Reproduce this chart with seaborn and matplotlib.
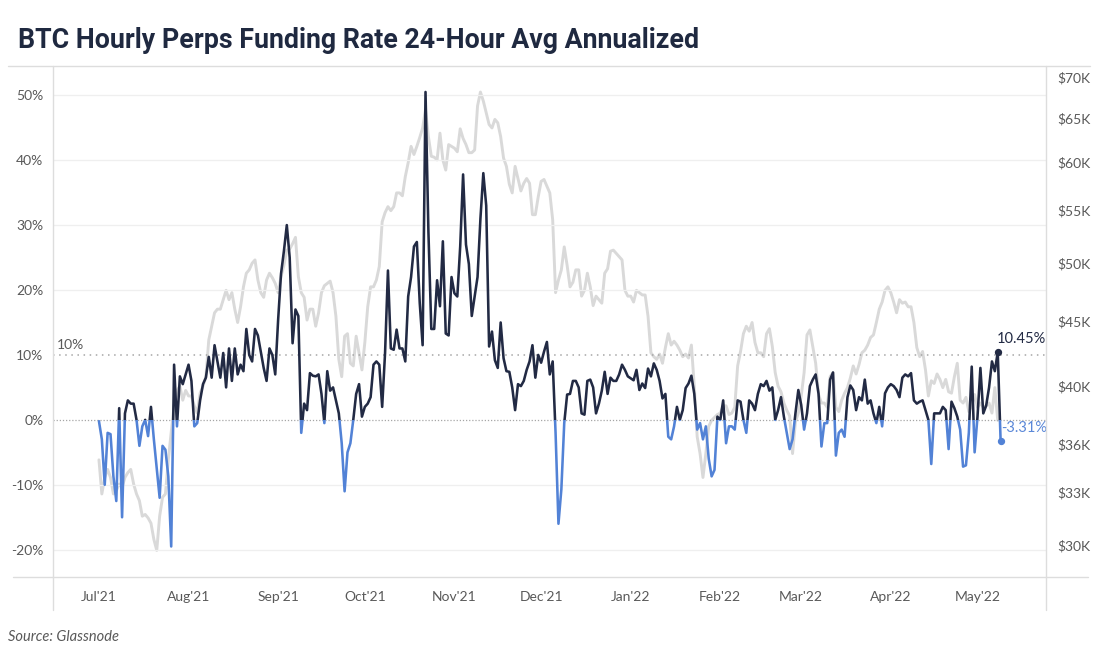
import matplotlib.dates as mdates
import matplotlib.lines as mlines
import matplotlib.transforms as mtransforms
import pandas as pd
import seaborn as sns
from matplotlib import pyplot as plt
from matplotlib.patches import Rectangle
from matplotlib.ticker import FixedLocator, NullFormatter, NullLocator

START = "2021-07-01"

# 24h average annualized funding rate, % (one value per day from START)
funding_rate = [
    -0.2, -3, -10, -2, -2.2, -8.7, -12.5, 1.8, -15, 1,
    3, 2.5, 2.5, 0, -4, -1, 0, -2.5, 2, -3,
    -7.5, -12, -4, -4.6, -8.7, -19.5, 8.5, -1, 6.7, 5.5,
    7, 8.5, 6, -1, -0.5, 3, 5.5, 6.5, 9.7, 6.5,
    11.5, 9, 6.5, 10.3, 5, 11, 6, 11, 7, 8.5,
    7.5, 14, 10, 9, 14, 13, 10.5, 8, 6, 11,
    10, 7, 15.4, 22.5, 26, 30, 25, 11.8, 17, 16,
    -2, 2.5, 1.5, 7.2, 6.8, 6.7, 7, 4, -0.5, 7.5,
    4.5, 5, 3, 1, -3.6, -11, -5, -3.6, 0, 4,
    5.5, 0.5, 2, 2.5, 3.5, 8.5, 9, 8.5, 2, 10.3,
    23, 11, 10.8, 13.9, 11, 11, 9, 19, 22, 26.7,
    27.4, 18, 11.5, 50.5, 29, 14, 14, 21.5, 17.5, 27.5,
    13.3, 13, 22, 19.5, 19, 26.7, 37.8, 27, 24, 16,
    19, 22, 31, 38, 33, 11.3, 13.6, 9.2, 8, 15,
    9.5, 7.5, 7.4, 5, 1.5, 5.5, 5.2, 6, 7.7, 9,
    11.5, 6.5, 10, 8.8, 10.5, 12, 7, 9, -2, -16,
    -10.7, -0.5, 3.9, 4, 6, 6, 5, 1, 0.8, 6,
    6.2, 5, 1, 2.5, 4.5, 7.4, 4, 6.5, 6, 6,
    7, 8.5, 7.7, 6.7, 6.4, 6.1, 7.7, 4.6, 5.6, 4.9,
    7.9, 6.7, 8.7, 7.7, 6, 3.3, 4, -2.6, -3, -1,
    2, 0, 1.5, 4.9, 5.6, 6.8, 4, -1.5, -0.5, -3,
    -1, -6, -8.7, -7.7, 0.5, 0, 3, -3.6, -1, -1,
    -1.5, 3, 2.8, 0, -2, 3, 2.5, 1.5, 4, 5.5,
    5.2, 6, 4.5, 5, 0, 1.5, 3.5, 0.5, -2, -4.5,
    -3, 1, 4.6, 2.3, -1.5, 1, 5.2, 6.2, 7, 4,
    -4.1, -0.5, -0.5, 6.2, 7.3, -5.5, -2, -1.5, -2.6, 3.5,
    5.3, 4.6, 1.5, 3.5, 3, 6.2, 2.5, 3, 1, -0.5,
    2, -1, 4.1, 5, 5.5, 5.2, 4.6, 3.5, 6.5, 7,
    6.7, 7.2, 3, 2.5, 2.8, 3, 1.5, 0, -6.8, 1,
    1, 1, 2, 1.5, -4.5, 2.8, 1.8, 0.5, -1.5, -7.2,
    -7, -2, 8.2, -5, 0.5, 8, 1, 2.2, 5, 9,
    7.5, 10.45, -3.31,
]

# BTC price, $K (one value per day from START)
btc_price_k = [
    35.0, 32.9, 33.9, 34.4, 33.9, 32.9, 33.1, 33.5, 33.3, 33.9,
    34.2, 34.4, 33.5, 32.9, 32.5, 31.6, 31.7, 31.5, 31.2, 30.3,
    29.7, 31.6, 32.7, 32.9, 35.0, 36.8, 38.6, 39.7, 40.0, 39.0,
    39.7, 39.3, 39.3, 38.6, 38.1, 39.5, 40.0, 40.7, 43.5, 44.6,
    45.7, 46.0, 46.0, 46.8, 47.6, 46.8, 47.4, 46.0, 44.9, 46.2,
    47.9, 49.1, 49.4, 50.0, 50.3, 48.5, 47.4, 47.0, 48.5, 49.1,
    48.7, 48.2, 47.4, 48.8, 49.8, 51.2, 51.3, 51.8, 52.4, 48.8,
    47.4, 47.0, 45.1, 46.0, 46.0, 44.6, 45.7, 47.4, 48.0, 48.2,
    48.4, 47.4, 45.4, 42.0, 40.7, 43.8, 44.0, 41.7, 41.5, 43.8,
    42.5, 41.2, 43.3, 46.2, 47.9, 47.9, 48.5, 49.7, 53.9, 54.8,
    55.4, 55.0, 55.4, 56.8, 56.8, 56.5, 58.5, 60.0, 61.8, 60.9,
    61.8, 62.8, 63.9, 66.1, 62.9, 60.7, 60.6, 60.3, 63.3, 60.3,
    59.2, 62.0, 61.8, 61.6, 61.2, 63.8, 62.7, 62.0, 61.1, 61.1,
    61.4, 66.5, 68.2, 67.1, 65.7, 64.3, 63.9, 64.9, 64.5, 62.9,
    60.5, 59.6, 57.7, 56.8, 59.6, 58.3, 57.0, 57.8, 58.3, 57.8,
    54.6, 54.6, 56.4, 58.0, 58.2, 57.5, 56.8, 54.1, 47.4, 48.5,
    49.4, 51.5, 49.8, 47.9, 48.3, 49.4, 49.4, 47.1, 47.6, 49.1,
    47.9, 46.3, 47.1, 46.8, 46.5, 49.1, 49.5, 51.1, 51.2, 50.9,
    50.6, 50.3, 47.6, 47.1, 47.1, 46.6, 47.6, 47.4, 47.2, 47.2,
    45.4, 42.5, 42.2, 42.0, 42.4, 41.7, 42.9, 44.0, 43.1, 43.4,
    43.1, 42.7, 42.2, 42.4, 42.1, 43.1, 40.0, 36.5, 35.4, 33.9,
    35.4, 37.2, 37.6, 37.8, 38.0, 38.1, 38.6, 38.6, 38.0, 38.1,
    38.5, 41.5, 42.6, 44.0, 44.6, 44.2, 44.9, 43.3, 42.5, 42.5,
    42.2, 44.0, 44.4, 43.0, 41.0, 40.0, 39.6, 38.8, 38.3, 37.9,
    35.4, 37.5, 38.1, 39.3, 41.0, 43.9, 44.3, 43.0, 41.7, 39.4,
    38.8, 38.8, 38.5, 40.7, 41.0, 38.5, 38.2, 39.0, 39.5, 39.9,
    40.6, 41.5, 40.9, 41.6, 42.5, 42.7, 43.1, 43.7, 43.9, 44.9,
    46.0, 46.6, 47.6, 47.9, 47.4, 46.6, 45.7, 46.8, 46.5, 46.6,
    46.2, 46.2, 44.9, 42.9, 42.2, 42.6, 41.2, 39.3, 40.4, 40.2,
    40.9, 40.5, 39.9, 40.5, 39.6, 39.5, 40.7, 41.7, 39.0, 38.8,
    39.2, 38.2, 38.6, 39.4, 38.5, 38.8, 38.5, 38.6, 38.8, 38.1,
    39.9, 37.6,
]

pct_ticks = [-20, -10, 0, 10, 20, 30, 40, 50]
price_ticks = [30, 33, 36, 40, 45, 50, 55, 60, 65, 70]

NAVY = "#222a44"
BLUE = "#5282d6"
GREY = "#d9d9d9"
TEXT = "#595959"
RULE = "#dddddd"

funding = pd.DataFrame({
    "date": pd.date_range(START, periods=len(funding_rate), freq="D"),
    "rate": funding_rate,
})
price = pd.DataFrame({
    "date": pd.date_range(START, periods=len(btc_price_k), freq="D"),
    "price": btc_price_k,
})

sns.set_theme(style="white")
plt.rcParams["font.family"] = ["Lato", "DejaVu Sans"]

W, H = 1100, 660
fig = plt.figure(figsize=(W / 100, H / 100), dpi=100)
left, right, top, bottom = 53, 1046, 66, 577
ax = fig.add_axes([left / W, 1 - bottom / H, (right - left) / W, (bottom - top) / H])
ax2 = ax.twinx()
ax2.set_zorder(ax.get_zorder() - 1)
ax.patch.set_visible(False)

# BTC price on the right, log scale
sns.lineplot(data=price, x="date", y="price", ax=ax2, color=GREY, linewidth=2.1)
ax2.set_yscale("log")
ax2.set_ylim(28.3, 71.5)
ax2.yaxis.set_major_locator(FixedLocator(price_ticks))
ax2.yaxis.set_minor_locator(NullLocator())
ax2.yaxis.set_minor_formatter(NullFormatter())
ax2.set_yticklabels([f"${v}K" for v in price_ticks])
ax2.set_ylabel("")

# reference lines
for v in pct_ticks:
    if v == 10:
        ax.axhline(v, color="#a6a6a6", lw=1.1, ls=(0, (1, 3)), zorder=1)
    elif v == 0:
        ax.axhline(v, color="#a6a6a6", lw=0.9, ls=(0, (1, 1.5)), zorder=1)
    else:
        ax.axhline(v, color="#efefef", lw=0.9, zorder=0)

# funding rate: navy above zero, blue below zero
band = mtransforms.blended_transform_factory(ax.transAxes, ax.transData)
for color, y0 in ((NAVY, 0), (BLUE, -1000)):
    sns.lineplot(data=funding, x="date", y="rate", ax=ax, color=color, linewidth=1.85)
    ax.lines[-1].set_clip_path(Rectangle((0, y0), 1, 1000, transform=band))

last = funding.iloc[-1]
prev = funding.iloc[-2]
ax.scatter([prev["date"]], [prev["rate"]], s=18, color=NAVY, zorder=5)
ax.scatter([last["date"]], [last["rate"]], s=18, color=BLUE, zorder=5)
ax.annotate(f"{prev['rate']:.2f}%", (prev["date"], prev["rate"]), xytext=(-1, 4),
            textcoords="offset points", ha="left", va="bottom", color=NAVY, fontsize=10.5)
ax.annotate(f"{last['rate']:.2f}%", (last["date"], last["rate"]), xytext=(0, 9.5),
            textcoords="offset points", ha="left", va="center", color="#5b88d8", fontsize=10.5)
ax.text(0.004, 10.6, "10%", transform=band, ha="left", va="bottom", color=TEXT, fontsize=10)

ax.set_ylim(-24.2, 54.5)
ax.yaxis.set_major_locator(FixedLocator(pct_ticks))
ax.set_yticklabels([f"{v}%" for v in pct_ticks])
start = pd.Timestamp(START)
ax.set_xlim(start - pd.Timedelta(days=15.9), start + pd.Timedelta(days=327.7))
ax.xaxis.set_major_locator(mdates.MonthLocator())
ax.xaxis.set_major_formatter(mdates.DateFormatter("%b'%y"))
ax.set_xlabel("")
ax.set_ylabel("")
ax.grid(False)
ax2.grid(False)

for a in (ax, ax2):
    for s in a.spines.values():
        s.set_visible(False)
    a.tick_params(length=0, labelsize=10, labelcolor=TEXT)
ax.tick_params(axis="x", pad=10)
ax.tick_params(axis="y", pad=7)
ax2.tick_params(axis="y", pad=8)

# frame rules
for (x0, x1, y0, y1) in ((8, 1090, 66, 66), (13, 1088, 577, 577),
                         (53, 53, 66, 610), (1046, 1046, 66, 610)):
    fig.add_artist(mlines.Line2D([x0 / W, x1 / W], [1 - y0 / H, 1 - y1 / H],
                                 color=RULE, lw=1, transform=fig.transFigure))

fig.text(18 / W, 1 - 48 / H, "BTC Hourly Perps Funding Rate 24-Hour Avg Annualized",
         family=["Roboto", "DejaVu Sans"], fontsize=19.3, weight="bold", color="#1f2940",
         va="baseline")
fig.text(8 / W, 1 - 637 / H, "Source: Glassnode", style="italic", fontsize=10.5,
         color=TEXT, va="center")

fig.savefig("out.png", dpi=100)
